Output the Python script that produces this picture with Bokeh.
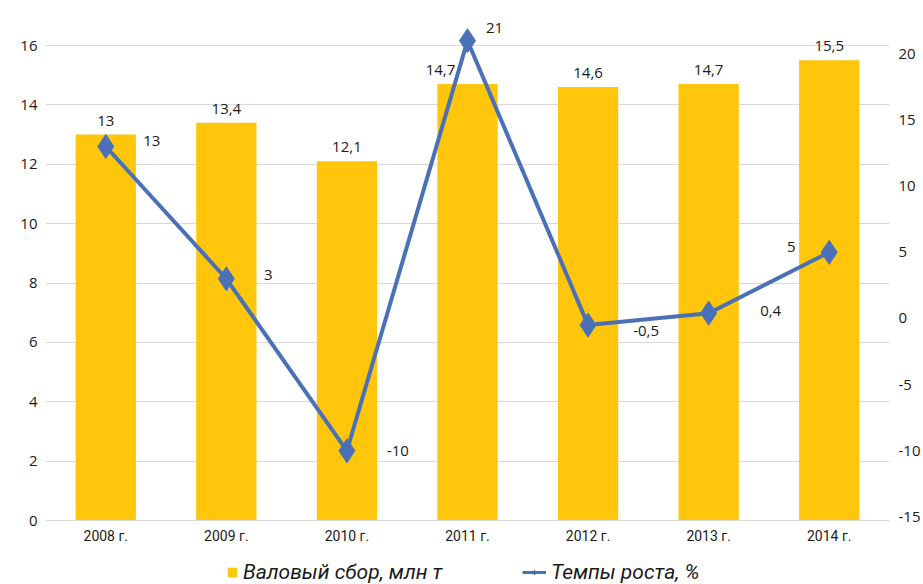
from bokeh.plotting import figure
from bokeh.layouts import column
from bokeh.models import (ColumnDataSource, FactorRange, Range1d, LinearAxis,
                          FixedTicker, Legend, LegendItem)
from bokeh.embed import file_html
from bokeh.resources import INLINE
from bokeh.core.properties import value

# --- data -----------------------------------------------------------------
years = ["2008 г.", "2009 г.", "2010 г.", "2011 г.", "2012 г.", "2013 г.", "2014 г."]
harvest = [13.0, 13.4, 12.1, 14.7, 14.6, 14.7, 15.5]      # валовый сбор, млн т
growth = [13.0, 3.0, -10.0, 21.0, -0.5, 0.4, 5.0]          # темпы роста, %
left_ticks = [0, 2, 4, 6, 8, 10, 12, 14, 16]
right_ticks = [-15, -10, -5, 0, 5, 10, 15, 20]
series_names = ["Валовый сбор, млн т", "Темпы роста, %"]


def ru(v):
    return f"{v:g}".replace(".", ",")


BAR = "#FFC60B"
LINE = "#4A71B8"
GRID = "#D9D9D9"
TXT = "#1A1A1A"
NUM_FONT = "Open Sans"

W = 923
MAIN_H, LEG_H = 546, 38
FRAME_LEFT = 45

p = figure(width=W, height=MAIN_H, x_range=FactorRange(*years, range_padding=0),
           y_range=Range1d(0, 17.18), output_backend="svg", toolbar_location=None,
           min_border_left=FRAME_LEFT, min_border_right=27, min_border_top=10,
           min_border_bottom=26)
p.extra_y_ranges = {"rate": Range1d(-15.27, 23.28)}
p.outline_line_color = None
p.background_fill_color = "white"
p.border_fill_color = "white"

# grid
p.xgrid.grid_line_color = None
p.ygrid.ticker = FixedTicker(ticks=left_ticks)
p.ygrid.grid_line_color = GRID
p.ygrid.grid_line_width = 1

# left axis
ya = p.yaxis[0]
ya.ticker = FixedTicker(ticks=left_ticks)
ya.axis_line_color = None
ya.major_tick_line_color = None
ya.minor_tick_line_color = None
ya.major_label_standoff = 2
ya.major_label_text_font = NUM_FONT
ya.major_label_text_font_size = "15px"
ya.major_label_text_color = TXT

# right axis (plain hyphen for negatives)
ra = LinearAxis(y_range_name="rate", ticker=FixedTicker(ticks=right_ticks),
                major_label_overrides={t: str(t) for t in right_ticks})
ra.axis_line_color = None
ra.major_tick_line_color = None
ra.minor_tick_line_color = None
ra.major_label_standoff = 3
ra.major_label_text_font = NUM_FONT
ra.major_label_text_font_size = "15px"
ra.major_label_text_color = TXT
p.add_layout(ra, "right")

# bottom axis
xa = p.xaxis[0]
xa.axis_line_color = GRID
xa.axis_line_width = 1
xa.major_tick_line_color = None
xa.minor_tick_line_color = None
xa.major_label_standoff = 1
xa.major_label_text_font = "Roboto"
xa.major_label_text_font_size = "14px"
xa.major_label_text_color = TXT

# bars
bar_src = ColumnDataSource(dict(
    x=years, top=harvest, label=[ru(v) for v in harvest],
    dx=[0, 0, 0, -27, 0, 0, 0],
))
p.vbar(x="x", top="top", width=0.5, source=bar_src,
       fill_color=BAR, line_color=None)
p.text(x="x", y="top", text="label", source=bar_src, x_offset="dx", y_offset=-14,
       text_align="center", text_baseline="middle", text_font=value(NUM_FONT),
       text_font_size="15px", text_color=TXT)

# growth line
line_src = ColumnDataSource(dict(
    x=years, y=growth, label=[ru(v) for v in growth],
    dx=[46, 42, 51, 27, 58, 62, -38],
    dy=[-6, -4, 0, -13, 6, -2, -5],
))
p.line(x="x", y="y", source=line_src, y_range_name="rate",
       line_color=LINE, line_width=4)
p.scatter(x="x", y="y", source=line_src, y_range_name="rate",
          marker="diamond", size=24, fill_color=LINE, line_color=LINE)
p.text(x="x", y="y", text="label", source=line_src, y_range_name="rate",
       x_offset="dx", y_offset="dy", text_align="center", text_baseline="middle",
       text_font=value(NUM_FONT), text_font_size="15px", text_color=TXT)

# --- legend strip under the chart ------------------------------------------
lg = figure(width=W, height=LEG_H, x_range=Range1d(0, 1), y_range=Range1d(0, 1),
            output_backend="svg", toolbar_location=None,
            min_border_left=0, min_border_right=0, min_border_top=0,
            min_border_bottom=0)
lg.axis.visible = False
lg.grid.visible = False
lg.outline_line_color = None
lg.border_fill_color = "white"

# key glyphs sit outside the visible range; only their legend swatches show
bar_key = lg.vbar(x=[-5], top=[-5], width=0.5, fill_color=BAR, line_color=None)
line_key = lg.line(x=[-5, -4], y=[-5, -5], line_color=LINE, line_width=3)
mark_key = lg.scatter(x=[-5], y=[-5], marker="diamond", fill_color=LINE,
                      line_color=LINE)


def add_key(item, x_px, glyph_w):
    # the strip's frame is aligned with the chart frame, so offset from it
    leg = Legend(items=[item], location=(x_px - FRAME_LEFT, 0),
                 orientation="horizontal", padding=0, margin=0, spacing=0,
                 border_line_color=None, background_fill_alpha=0,
                 glyph_width=glyph_w, glyph_height=12, label_standoff=5,
                 label_text_font="Roboto", label_text_font_style="italic",
                 label_text_font_size="21px", label_text_color=TXT,
                 label_height=20)
    lg.add_layout(leg, "center")


add_key(LegendItem(label=series_names[0], renderers=[bar_key]), 226, 12)
add_key(LegendItem(label=series_names[1], renderers=[line_key, mark_key]), 522, 24)

layout = column(p, lg, spacing=0)
open("out.html", "w").write(file_html(layout, INLINE))
